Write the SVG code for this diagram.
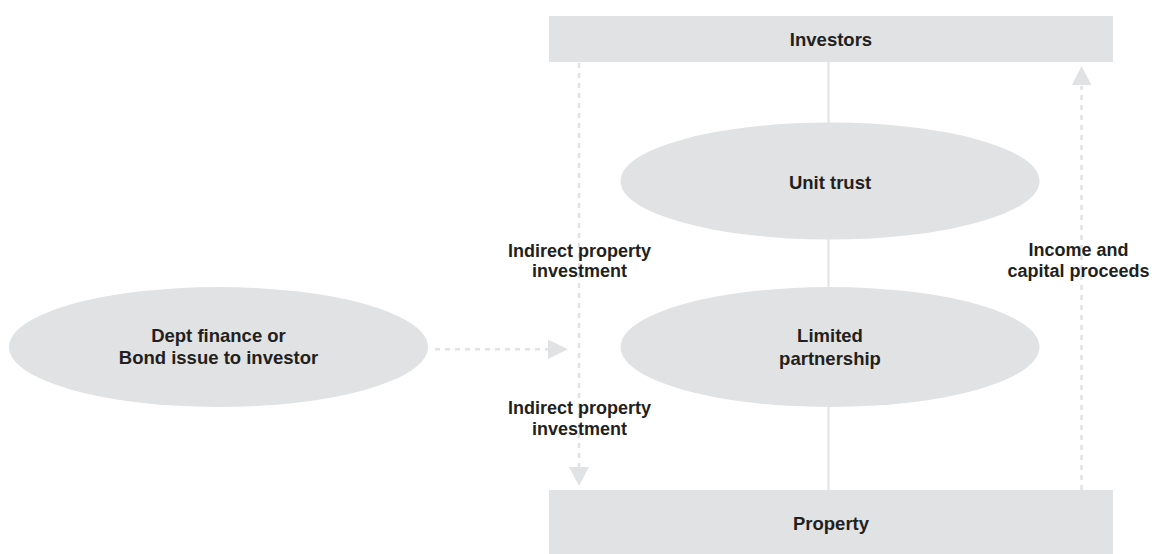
<svg xmlns="http://www.w3.org/2000/svg" width="1164" height="554" viewBox="0 0 1164 554">
  <style>
    .box { fill: #e1e2e3; }
    .lbl { font-family: "Liberation Sans", Arial, sans-serif; font-weight: bold; fill: #231f20; text-anchor: middle; }
    .node { font-size: 18.5px; }
    .edge { font-size: 18px; }
    .solid { stroke: #e1e2e3; stroke-width: 2; fill: none; }
    .dash { stroke: #e1e2e3; stroke-width: 2.5; stroke-dasharray: 5 5; fill: none; }
    .head { fill: #e1e2e3; }
  </style>
  <rect width="1164" height="554" fill="#ffffff"/>
  <g id="connectors">
    <line class="solid" x1="828.5" y1="62" x2="828.5" y2="490"/>
    <line class="dash" x1="579" y1="63" x2="579" y2="467"/>
    <polygon class="head" points="569,467 589,467 579,486"/>
    <line class="dash" x1="1081.5" y1="490" x2="1081.5" y2="86"/>
    <polygon class="head" points="1072,85 1091.5,85 1081.5,66"/>
    <line class="dash" x1="435" y1="349.3" x2="548" y2="349.3"/>
    <polygon class="head" points="548,339.5 548,359 568,349.3"/>
    <text class="lbl edge" x="579.5" y="256.5">Indirect property</text>
    <text class="lbl edge" x="579.5" y="277">investment</text>
    <text class="lbl edge" x="579.5" y="414">Indirect property</text>
    <text class="lbl edge" x="579.5" y="434.5">investment</text>
    <text class="lbl edge" x="1078.5" y="256">Income and</text>
    <text class="lbl edge" x="1078.5" y="276.5">capital proceeds</text>
  </g>
  <g id="investors">
    <rect class="box" x="549" y="16" width="564" height="46"/>
    <text class="lbl node" x="831" y="45.5">Investors</text>
  </g>
  <g id="unit-trust">
    <ellipse class="box" cx="830" cy="181" rx="209.5" ry="58.5"/>
    <text class="lbl node" x="830" y="189">Unit trust</text>
  </g>
  <g id="limited-partnership">
    <ellipse class="box" cx="830" cy="347" rx="209.5" ry="60"/>
    <text class="lbl node" x="830" y="342">Limited</text>
    <text class="lbl node" x="830" y="365">partnership</text>
  </g>
  <g id="dept-finance">
    <ellipse class="box" cx="218.5" cy="347" rx="209.5" ry="60"/>
    <text class="lbl node" x="218.5" y="341.5">Dept finance or</text>
    <text class="lbl node" x="218.5" y="363.5">Bond issue to investor</text>
  </g>
  <g id="property">
    <rect class="box" x="549" y="490" width="564" height="64"/>
    <text class="lbl node" x="831" y="529.5">Property</text>
  </g>
</svg>
